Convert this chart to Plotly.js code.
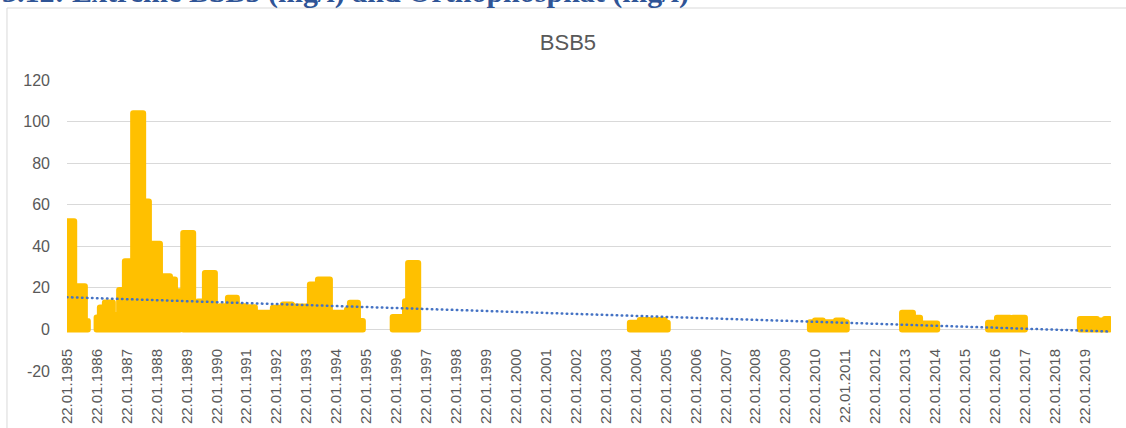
<!DOCTYPE html>
<html>
<head>
<meta charset="utf-8">
<script src="https://cdn.plot.ly/plotly-3.0.1.min.js"></script>
<style>
  html, body { margin: 0; padding: 0; background: #ffffff; }
  #chart { width: 1126px; height: 428px; }
  .scatterlayer .trace:first-child .js-line { stroke-linejoin: round !important; stroke-linecap: round !important; }
  .scatterlayer .trace:nth-child(2) .js-line { stroke-linecap: round !important; }
</style>
</head>
<body>
<div id="chart"></div>
<script>
// Sampling dates; a null value marks the end of a sampling period (gap follows)
const sampleDates = [
  '1985-01-22','1985-04-20','1985-08-28','1985-10-03',
  '1986-01-18','1986-02-27','1986-04-29','1986-08-04','1986-10-20','1986-12-29',
  '1987-04-09','1987-08-09','1987-10-18','1988-03-01','1988-04-07','1988-07-01',
  '1988-08-31','1988-10-31',
  '1988-12-10','1989-04-10','1989-06-06','1989-08-31','1989-12-31','1990-03-02',
  '1990-06-08','1990-09-25','1991-01-01','1991-05-03','1991-06-08','1991-12-08',
  '1992-04-08','1992-07-27','1992-09-02','1993-01-26','1993-03-04','1993-06-10',
  '1993-11-03','1994-05-30','1994-07-05','1994-10-11','1994-12-10',
  '1995-12-09','1996-05-07','1996-06-14','1996-10-15',
  '2003-11-10','2004-03-10','2004-07-10','2004-09-09','2005-01-08','2005-02-14',
  '2009-11-14','2010-01-15','2010-04-20','2010-09-28','2010-12-20','2011-02-07',
  '2012-12-12','2013-04-24','2013-07-20','2014-02-14',
  '2015-10-27','2016-02-13','2016-07-20','2016-08-26','2017-01-19',
  '2018-11-20','2019-06-17','2019-09-20','2019-11-20'
];
const bsb5Values = [
  52, 20.8, 4, null,
  5.7, 10.5, 13, 7, 19, 32.8,
  104, 61.5, 41.2, 24, 25.6, 24,
  18.4, null,
  46.4, 9.6, 13.4, 27.2, 10.5, 11.2,
  15.2, 11.2, 10.7, 4, 8, 10.4,
  12, 7, 11, 9.6, 21.6, 24,
  8, 9.6, 12.8, 4, null,
  6, 13.6, 32, null,
  3.2, 4.5, 3.5, 4.5, 3.2, null,
  3.5, 4.3, 3.5, 4.3, 3.5, null,
  8, 5.6, 2.9, null,
  3.2, 5.6, 3.2, 5.6, null,
  5, 4.3, 5, null
];
// Linear trend line (Excel trendline)
const trendDates = ['1985-01-22', '2019-12-05'];
const trendValues = [15.5, -1];

const yTicks = [-20, 0, 20, 40, 60, 80, 100, 120];

// Build closed step outline for each sampling period
const xs = [], ys = [];
let open = false, last = null, start = null;
for (let i = 0; i < sampleDates.length; i++) {
  const d = sampleDates[i], v = bsb5Values[i];
  if (v === null) {
    if (open) {
      xs.push(d); ys.push(last);
      xs.push(d); ys.push(0);
      xs.push(start); ys.push(0);
      xs.push(null); ys.push(null);
    }
    open = false;
  } else {
    if (!open) { xs.push(d); ys.push(0); open = true; start = d; }
    xs.push(d); ys.push(v); last = v;
  }
}

const xTickFont = {family: 'Liberation Sans, Arial, sans-serif', size: 15, color: '#595959'};
const yTickFont = {family: 'Liberation Sans, Arial, sans-serif', size: 16, color: '#595959'};

const data = [
  {
    type: 'scatter', mode: 'lines', x: xs, y: ys,
    line: {color: '#FFC000', width: 6, shape: 'hv', simplify: false},
    fill: 'tozeroy', fillcolor: '#FFC000',
    connectgaps: false, hoverinfo: 'skip', showlegend: false
  },
  {
    type: 'scatter', mode: 'lines', x: trendDates, y: trendValues,
    line: {color: '#4472C4', width: 2.5, dash: '0.5px,4.5px'},
    hoverinfo: 'skip', showlegend: false
  }
];

const layout = {
  width: 1126, height: 428,
  margin: {l: 67, r: 15, t: 80, b: 57, pad: 0},
  paper_bgcolor: '#ffffff', plot_bgcolor: '#ffffff',
  showlegend: false,
  title: {
    text: 'BSB5', xref: 'container', x: 0.5044, xanchor: 'center',
    yref: 'container', y: 1 - 42 / 428, yanchor: 'middle',
    font: {family: 'Liberation Sans Narrow, Liberation Sans, Arial, sans-serif', size: 22, color: '#595959'}
  },
  xaxis: {
    type: 'date', range: ['1985-01-22', '2019-12-05'],
    anchor: 'free', position: 0.1409,
    tickmode: 'linear', tick0: '1985-01-22', dtick: 'M12',
    tickformat: '%d.%m.%Y', tickangle: -90,
    showgrid: false, zeroline: false, showline: false, ticks: '',
    tickfont: xTickFont, ticklabelstandoff: 15
  },
  yaxis: {
    range: [-20, 120], tickmode: 'array', tickvals: yTicks,
    ticktext: yTicks.map(String),
    showgrid: true, gridcolor: '#d9d9d9', gridwidth: 1,
    zeroline: false, showline: false, ticks: '',
    tickfont: yTickFont, ticklabelstandoff: 16
  },
  annotations: [{
    text: '<b>3.12: Extreme BSB5 (mg/l) and Orthophosphat (mg/l)</b>',
    xref: 'paper', x: -67 / 1044, xanchor: 'left',
    yref: 'paper', y: 1.3041, yanchor: 'middle',
    showarrow: false,
    font: {family: 'Liberation Serif, Times New Roman, serif', size: 30, color: '#2F5496'}
  }],
  shapes: [
    {type: 'line', xref: 'paper', yref: 'paper', x0: -0.0575, x1: 1.02, y0: 1.2474, y1: 1.2474,
     line: {color: '#d9d9d9', width: 1}},
    {type: 'line', xref: 'paper', yref: 'paper', x0: -0.0575, x1: -0.0575, y0: 1.2474, y1: -0.2,
     line: {color: '#d9d9d9', width: 1}}
  ]
};

Plotly.newPlot('chart', data, layout, {staticPlot: true, displayModeBar: false});
</script>
</body>
</html>
